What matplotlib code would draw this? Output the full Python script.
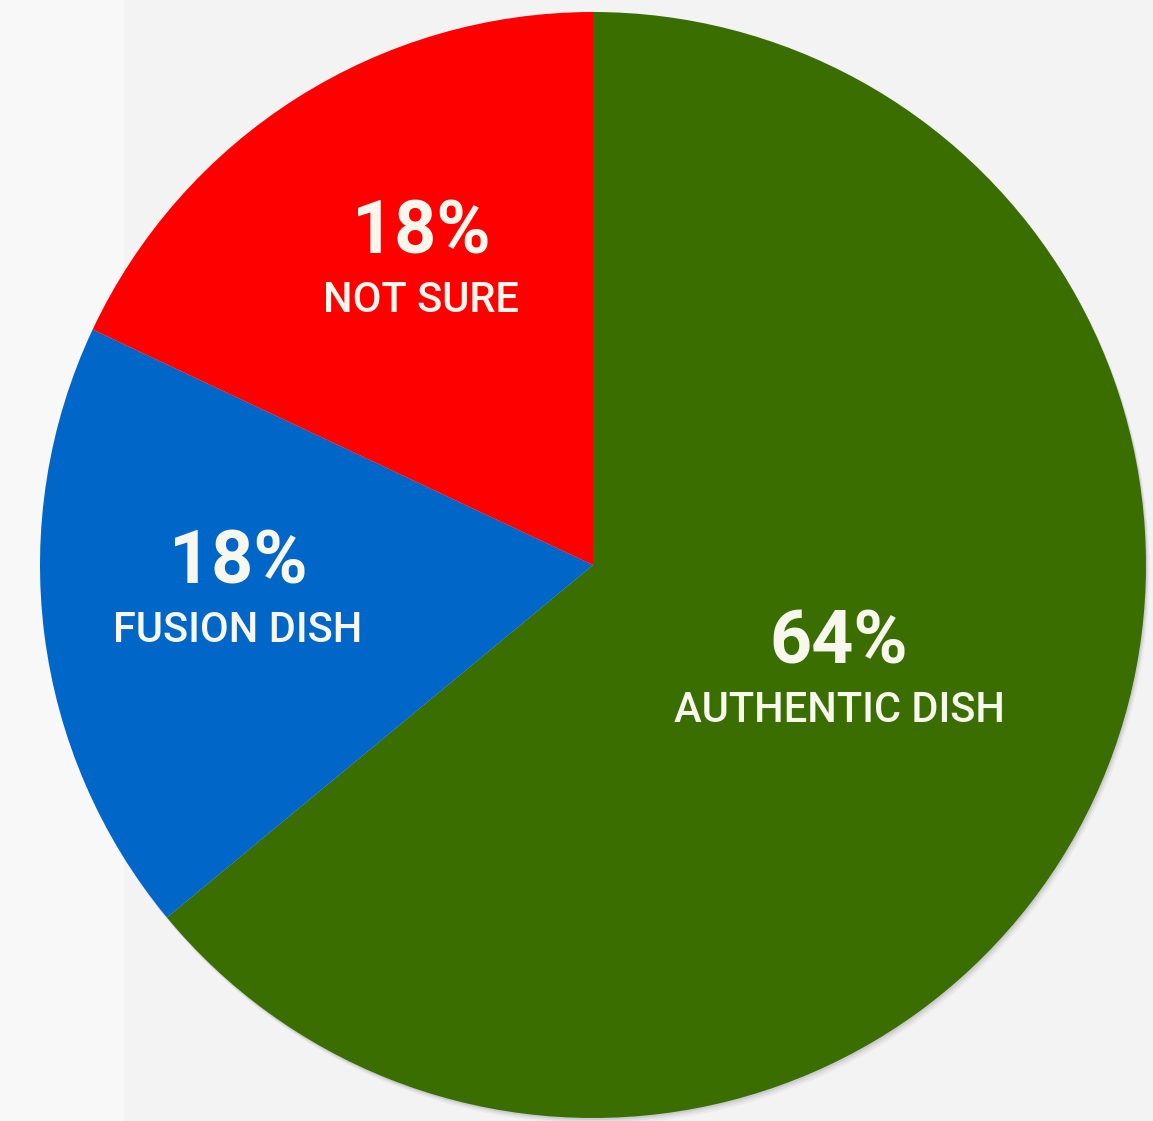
import matplotlib.pyplot as plt
from matplotlib.patches import Circle, Rectangle

# survey answers, drawn clockwise from 12 o'clock
labels = ["AUTHENTIC DISH", "FUSION DISH", "NOT SURE"]
shares = [64, 18, 18]
colors = ["#3a6e00", "#0066c8", "#ff0000"]

# label baseline anchors, in pixel data coords (layout only)
label_pos = [(839, 399), (238, 479), (421, 809)]
pct_gap = 58

fig = plt.figure(figsize=(11.53, 11.21), dpi=100)
fig.patch.set_facecolor("#f3f3f3")
ax = fig.add_axes([0, 0, 1, 1])
ax.set_xlim(0, 1153)
ax.set_ylim(0, 1121)
ax.set_aspect("equal")
ax.axis("off")

# lighter strip at the left edge
ax.add_patch(Rectangle((0, 0), 123, 1121, color="#f8f8f8", zorder=0))

cx, cy, r = 593, 1121 - 565, 553

# soft shadow at lower right
for k, a in [(6, 0.05), (4, 0.08), (2, 0.12)]:
    ax.add_patch(Circle((cx + k * 0.6, cy - k), r, color="#505060", alpha=a, lw=0, zorder=1))

wedges, _ = ax.pie(
    shares,
    colors=colors,
    startangle=90,
    counterclock=False,
    center=(cx, cy),
    radius=r,
    frame=True,
    wedgeprops=dict(linewidth=0),
)
for w in wedges:
    w.set_zorder(2)
ax.axis("off")
ax.set_xlim(0, 1153)
ax.set_ylim(0, 1121)

txt = "#f7f7ee"
for lab, val, (x, y) in zip(labels, shares, label_pos):
    ax.text(x, y + pct_gap, f"{val}%", ha="center", va="baseline",
            fontsize=53, fontweight="bold", color=txt, family="Roboto", zorder=3)
    ax.text(x, y, lab, ha="center", va="baseline",
            fontsize=30, fontweight="medium", color=txt, family="Roboto", zorder=3)

fig.savefig("out.png", dpi=100, facecolor=fig.get_facecolor())
